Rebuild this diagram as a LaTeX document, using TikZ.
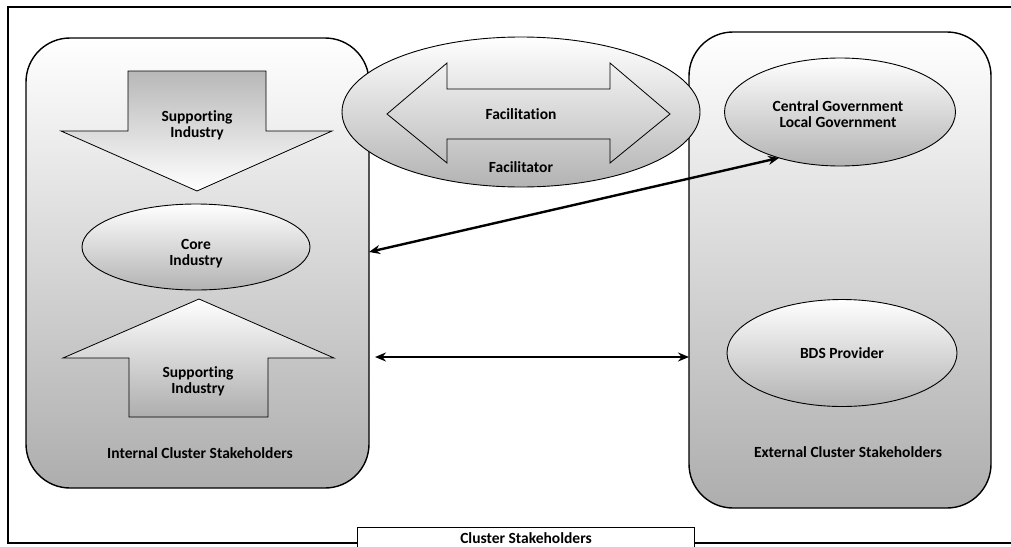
\documentclass[tikz,border=0pt]{standalone}
\usepackage{fontspec}
\setmainfont{Carlito}[Ligatures=NoCommon]
\usetikzlibrary{shapes.geometric,arrows.meta,calc}
\tikzset{
  lbl/.style={font=\fontsize{15.5}{16}\selectfont\bfseries, align=center, inner sep=0pt},
  grp/.style={draw, line width=1.4pt, rounded corners=44pt, inner sep=0pt, outer sep=0pt, top color=white, middle color=black!6, bottom color=black!32},
  oval/.style={draw, ellipse, line width=0.9pt, inner sep=0pt, outer sep=0pt, top color=white, middle color=black!5, bottom color=black!30},
  fatarrow/.style={draw, line width=0.8pt, line join=miter},
  link/.style={{Stealth[length=11pt,width=9pt]}-{Stealth[length=11pt,width=9pt]}, line width=2.4pt}
}
\begin{document}
\begin{tikzpicture}[x=1pt,y=-1pt]
\useasboundingbox (0,0) rectangle (1011,546);
\clip (0,0) rectangle (1011,546);
\fill[white] (0,0) rectangle (1011,546);
% outer frame
\draw[line width=1.6pt] (357,543) -- (8,543) -- (8,7) -- (1030,7) -- (1030,543) -- (694,543);
\node[draw, line width=1.4pt, minimum width=337pt, minimum height=40pt, inner sep=0pt, anchor=north west, fill=white] (frame) at (357,527) {};
\node[lbl, anchor=center] (framelbl) at (526,538) {Cluster Stakeholders};
% groups
\node[grp, minimum width=343pt, minimum height=450pt] (internal) at (197.5,263) {};
\node[grp, minimum width=302pt, minimum height=476pt] (external) at (840,270) {};
% facilitator ellipse on top of groups
\node[oval, minimum width=358pt, minimum height=150pt] (facil) at (521,112) {};
\draw[fatarrow] (387,114) -- (447,63) -- (447,89) -- (610,89) -- (610,63) -- (670,114) -- (610,163) -- (610,139) -- (447,139) -- (447,163) -- cycle;
\node[lbl] (facilitation) at (521,114) {Facilitation};
\node[lbl] (facilitator) at (521,167) {Facilitator};
% internal contents
\path[fatarrow, top color=black!28, bottom color=white] (128,71) -- (266,71) -- (266,131) -- (332,131) -- (197,191) -- (61,131) -- (128,131) -- cycle;
\node[lbl] (supp1) at (197,125) {Supporting\\Industry};
\node[oval, minimum width=228pt, minimum height=86pt] (core) at (196,247) {};
\node[lbl] (corelbl) at (196,254) {Core\\Industry};
\path[fatarrow, top color=white, bottom color=black!32] (199,299) -- (334,358) -- (268,358) -- (268,417) -- (129,417) -- (129,358) -- (63,358) -- cycle;
\node[lbl] (supp2) at (198,381) {Supporting\\Industry};
\node[lbl] (intlbl) at (200,453) {Internal Cluster Stakeholders};
% external contents
\node[oval, minimum width=231pt, minimum height=108pt] (gov) at (840,112) {};
\node[lbl] (govlbl) at (838,114) {Central Government\\Local Government};
\node[oval, minimum width=230pt, minimum height=107pt] (bds) at (842,353) {};
\node[lbl] (bdslbl) at (842,353) {BDS Provider};
\node[lbl] (extlbl) at (848,452) {External Cluster Stakeholders};
% connectors
\draw[link] ([yshift=11pt]internal.east) -- (gov.217);
\draw[link, line width=1.8pt] ($(internal.east)+(6,94)$) -- ($(external.west)+(0,87)$);
\end{tikzpicture}
\end{document}
